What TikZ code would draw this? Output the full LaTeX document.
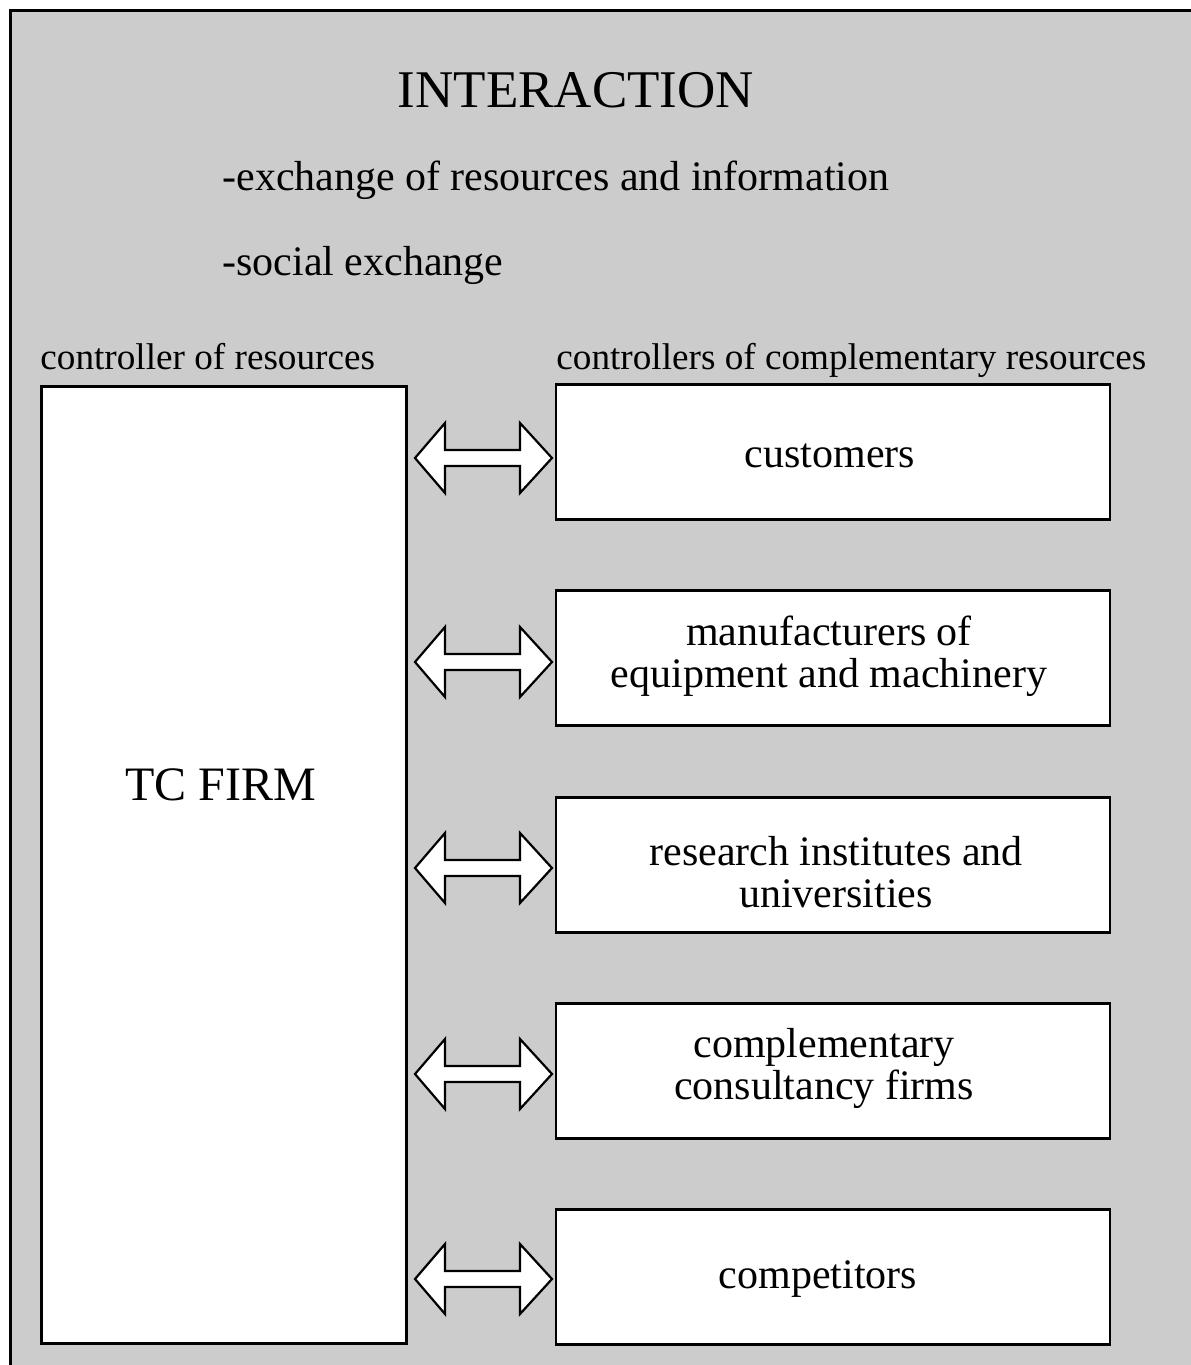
\documentclass[tikz,border=0pt]{standalone}
\usepackage{fontspec}
\setmainfont{Liberation Serif}
\begin{document}
\begin{tikzpicture}[x=0.5pt,y=-0.5pt,
  box/.style={draw=black,line width=1.3pt,fill=white,inner sep=0pt,minimum width=554*0.5pt,minimum height=135*0.5pt},
  txt/.style={font=\fontsize{21}{21}\selectfont,align=center},
  lab/.style={font=\fontsize{18.6}{20}\selectfont,inner sep=0pt,anchor=base west},
  dbl/.pic={\draw[line width=1.1pt,fill=white,line join=miter]
     (-68,0) -- (-38,-35) -- (-38,-8) -- (37,-8) -- (37,-35) -- (69,0)
     -- (37,35) -- (37,8) -- (-38,8) -- (-38,35) -- cycle;}]
\useasboundingbox (0,0) rectangle (1190,1365);
\fill[white] (0,0) rectangle (1190,1365);
\filldraw[fill=gray!40,draw=black,line width=1.5pt] (10,10) rectangle (1200,1380);

\node[font=\fontsize{26.5}{28}\selectfont] (title) at (576,90) {INTERACTION};
\node[txt,anchor=west,inner sep=0pt] (ex1) at (222,180) {-exchange of resources and information};
\node[txt,anchor=west,inner sep=0pt] (ex2) at (222,265) {-social exchange};
\node[lab] (labL) at (40,369) {controller of resources};
\node[lab] (labR) at (556,369) {controllers of complementary resources};

\node[draw=black,line width=1.3pt,fill=white,minimum width=365*0.5pt,minimum height=957*0.5pt,anchor=north west] (firm) at (40,385) {};
\node[font=\fontsize{24}{24}\selectfont] (firmtxt) at (221,785) {TC FIRM};

\node[box] (b1) at (833,452) {};
\node[box] (b2) at (833,658) {};
\node[box] (b3) at (833,865) {};
\node[box] (b4) at (833,1071) {};
\node[box] (b5) at (833,1277) {};
\node[txt] (t1) at (830,456) {customers};
\node[txt] (t2) at (829,656) {manufacturers of\\equipment and machinery};
\node[txt] (t3) at (836,872) {research institutes and\\universities};
\node[txt] (t4) at (824,1068) {complementary\\consultancy firms};
\node[txt] (t5) at (818,1279) {competitors};

\pic at (483,458) {dbl};
\pic at (483,662) {dbl};
\pic at (483,868) {dbl};
\pic at (483,1074) {dbl};
\pic at (483,1279) {dbl};
\end{tikzpicture}
\end{document}
